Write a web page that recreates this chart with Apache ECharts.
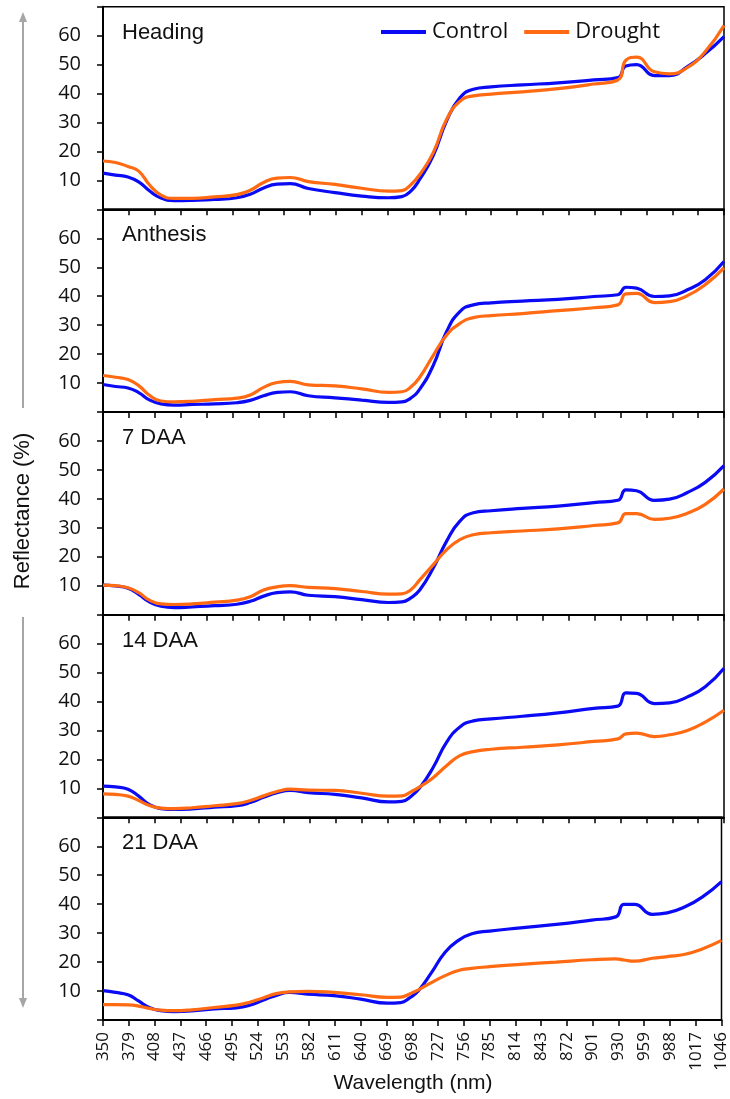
<!DOCTYPE html>
<html>
<head>
<meta charset="utf-8">
<script src="https://cdn.jsdelivr.net/npm/echarts@6/dist/echarts.min.js"></script>
<style>
html,body{margin:0;padding:0;background:#fff;}
#chart{width:730px;height:1099px;}
</style>
</head>
<body>
<div id="chart"></div>
<script>
// ---------- DATA ----------
const wavelengths = [350,364,378,390,402,415,430,450,475,500,515,530,545,560,580,610,640,670,685,695,705,720,735,750,765,785,820,860,900,927,936,948,968,985,1005,1025,1046];

const panelNames = ['Heading','Anthesis','7 DAA','14 DAA','21 DAA'];
const seriesNames = ['Control','Drought'];

const headingControl  = [12.5,11.8,11.2,9.5,6.4,3.9,3.0,3.1,3.4,4.0,5.2,7.4,8.7,8.9,7.2,5.8,4.6,4.0,4.4,6.3,10.4,18.5,30.5,38.5,41.5,42.3,43.0,43.7,44.7,45.5,49.5,50.0,46.2,46.2,49.3,53.8,59.7];
const headingDrought  = [16.7,16.2,14.8,13.2,8.5,4.9,3.8,3.8,4.3,5.1,6.6,9.3,10.8,11.0,9.6,8.6,7.3,6.3,6.5,8.5,12.0,19.5,31.0,37.3,39.2,39.8,40.6,41.7,43.3,44.7,51.5,52.6,47.5,46.8,49.0,54.5,63.5];
const anthesisControl = [9.5,8.8,8.3,6.7,4.2,2.8,2.4,2.6,2.8,3.2,4.0,5.6,6.8,7.0,5.6,4.9,4.1,3.3,3.5,4.8,7.9,16.0,27.7,34.7,37.0,37.7,38.3,38.9,39.9,40.5,43.1,42.8,39.9,40.1,42.2,45.7,52.0];
const anthesisDrought = [12.6,12.0,11.2,9.1,5.8,3.8,3.5,3.7,4.3,4.8,5.9,8.5,10.2,10.6,9.4,9.0,8.0,6.8,7.0,8.6,12.0,19.5,26.5,30.6,32.6,33.3,34.0,35.0,36.0,37.0,40.8,41.0,37.8,38.1,40.2,44.0,49.8];
const daa7Control     = [10.2,9.9,9.1,7.0,4.4,2.9,2.4,2.7,3.1,3.6,4.6,6.4,7.6,7.9,6.7,6.2,5.2,4.2,4.4,5.8,8.5,16.0,25.3,32.3,35.2,35.9,36.7,37.5,38.7,39.5,43.1,42.8,39.5,39.9,42.2,45.7,51.5];
const daa7Drought     = [10.2,10.0,9.3,7.6,5.0,3.7,3.5,3.7,4.3,5.0,6.2,8.5,9.6,10.0,9.4,9.0,8.0,7.1,7.2,8.6,12.0,17.2,22.4,25.9,27.6,28.3,28.9,29.6,30.8,31.7,34.9,34.9,32.9,33.3,35.0,38.1,43.4];
const daa14Control    = [10.8,10.5,9.7,7.3,4.4,3.0,2.7,2.9,3.5,4.0,5.1,6.9,8.5,9.3,8.5,7.9,6.7,5.3,5.5,7.2,10.2,17.2,25.9,31.2,33.3,34.0,34.9,36.1,37.6,38.4,43.0,42.8,39.3,39.5,41.6,45.1,51.5];
const daa14Drought    = [8.1,7.9,7.3,5.8,4.1,3.2,3.0,3.3,4.0,4.7,5.8,7.4,8.9,9.7,9.4,9.3,8.3,7.3,7.4,8.8,10.5,13.7,17.8,21.3,22.7,23.5,24.2,25.0,26.2,27.1,28.8,29.1,27.9,28.5,30.0,32.9,37.0];
const daa21Control    = [10.1,9.5,8.7,6.6,4.3,3.2,2.9,3.1,3.8,4.2,5.1,6.8,8.5,9.5,8.9,8.4,7.2,5.8,6.0,7.6,10.1,16.5,23.4,27.5,29.8,30.7,31.8,33.0,34.5,35.6,39.9,39.9,36.5,37.0,39.1,42.6,47.8];
const daa21Drought    = [5.3,5.3,5.2,4.8,4.0,3.4,3.2,3.5,4.3,5.1,6.1,7.6,9.1,9.7,9.9,9.5,8.7,7.8,7.9,9.0,10.4,13.0,15.3,17.1,17.8,18.4,19.2,20.0,20.8,21.1,20.7,20.3,21.3,21.9,22.7,24.6,27.5];

const xTickLabels = [350,379,408,437,466,495,524,553,582,611,640,669,698,727,756,785,814,843,872,901,930,959,988,1017,1046];
const yTickLabels = [10,20,30,40,50,60];

const xAxisTitle = 'Wavelength (nm)';
const yAxisTitle = 'Reflectance (%)';

// ---------- CHART ----------
const panels = [
  [headingControl, headingDrought],
  [anthesisControl, anthesisDrought],
  [daa7Control, daa7Drought],
  [daa14Control, daa14Drought],
  [daa21Control, daa21Drought]
];
const colors = ['#0a0af5', '#ff6a12'];
const tickFont = '"Open Sans", sans-serif';
const textFont = '"Liberation Sans", Arial, sans-serif';

const gridTop0 = 6.7, gridH = 202.65, gridLeft = 103, gridRight = 6;

const grids = [], xAxes = [], yAxes = [], series = [], titles = [];
panels.forEach((pair, i) => {
  const top = gridTop0 + gridH * i;
  const last = i === panels.length - 1;
  grids.push({left: gridLeft, right: gridRight, top: top, height: gridH,
    show: true, borderColor: '#000', borderWidth: 1.5, backgroundColor: 'transparent'});
  xAxes.push({
    type: 'value', gridIndex: i, min: 350, max: 1046,
    axisLine: {show: true, onZero: false, lineStyle: {color: '#000', width: 2}},
    axisTick: {show: true, inside: false, length: 6, customValues: xTickLabels, lineStyle: {color: '#000', width: 1.5}},
    axisLabel: {show: last, customValues: xTickLabels, rotate: 90, margin: 12,
      formatter: v => String(v),
      fontSize: 17, fontFamily: tickFont, color: '#111'},
    splitLine: {show: false}
  });
  yAxes.push({
    type: 'value', gridIndex: i, min: 0, max: 70, interval: 10,
    axisLine: {show: true, onZero: false, lineStyle: {color: '#000', width: 2}},
    axisTick: {show: true, inside: false, length: 6, lineStyle: {color: '#000', width: 1.5}},
    axisLabel: {show: true, customValues: yTickLabels, margin: 22,
      fontSize: 20, fontFamily: tickFont, color: '#111'},
    splitLine: {show: false}
  });
  pair.forEach((vals, k) => {
    series.push({
      name: seriesNames[k], type: 'line', xAxisIndex: i, yAxisIndex: i,
      data: wavelengths.map((w, j) => [w, vals[j]]),
      showSymbol: false, smooth: 0.5,
      lineStyle: {color: colors[k], width: 3.2}, itemStyle: {color: colors[k]},
      z: 2 + k, silent: true, animation: false
    });
  });
  titles.push({text: panelNames[i], left: 122, top: top + 15, padding: 0,
    textStyle: {fontSize: 22, fontWeight: 'normal', fontFamily: textFont, color: '#111'}});
});

const arrowColor = '#a6a6a6';
const option = {
  animation: false,
  backgroundColor: '#fff',
  title: titles,
  legend: {
    data: seriesNames, left: 381, top: 21, icon: 'rect', itemWidth: 45, itemHeight: 4,
    itemGap: 16, padding: 0,
    textStyle: {fontSize: 22, fontFamily: tickFont, color: '#111', padding: [0,0,0,1]}
  },
  grid: grids, xAxis: xAxes, yAxis: yAxes, series: series,
  graphic: [
    {type: 'text', x: 413, y: 1083, style: {text: xAxisTitle, textAlign: 'center', textVerticalAlign: 'middle',
      fontSize: 21, fontFamily: textFont, fill: '#111'}},
    {type: 'text', x: 23, y: 511, rotation: Math.PI / 2, style: {text: yAxisTitle, textAlign: 'center', textVerticalAlign: 'middle',
      fontSize: 22, fontFamily: textFont, fill: '#111'}},
    {type: 'line', shape: {x1: 23, y1: 20, x2: 23, y2: 408}, style: {stroke: arrowColor, lineWidth: 2}},
    {type: 'polygon', shape: {points: [[23, 12], [19, 22], [27, 22]]}, style: {fill: arrowColor}},
    {type: 'line', shape: {x1: 23, y1: 617, x2: 23, y2: 1000}, style: {stroke: arrowColor, lineWidth: 2}},
    {type: 'polygon', shape: {points: [[23, 1008], [19, 998], [27, 998]]}, style: {fill: arrowColor}}
  ]
};

const chart = echarts.init(document.getElementById('chart'), null, {renderer: 'canvas'});
chart.setOption(option);
</script>
</body>
</html>
